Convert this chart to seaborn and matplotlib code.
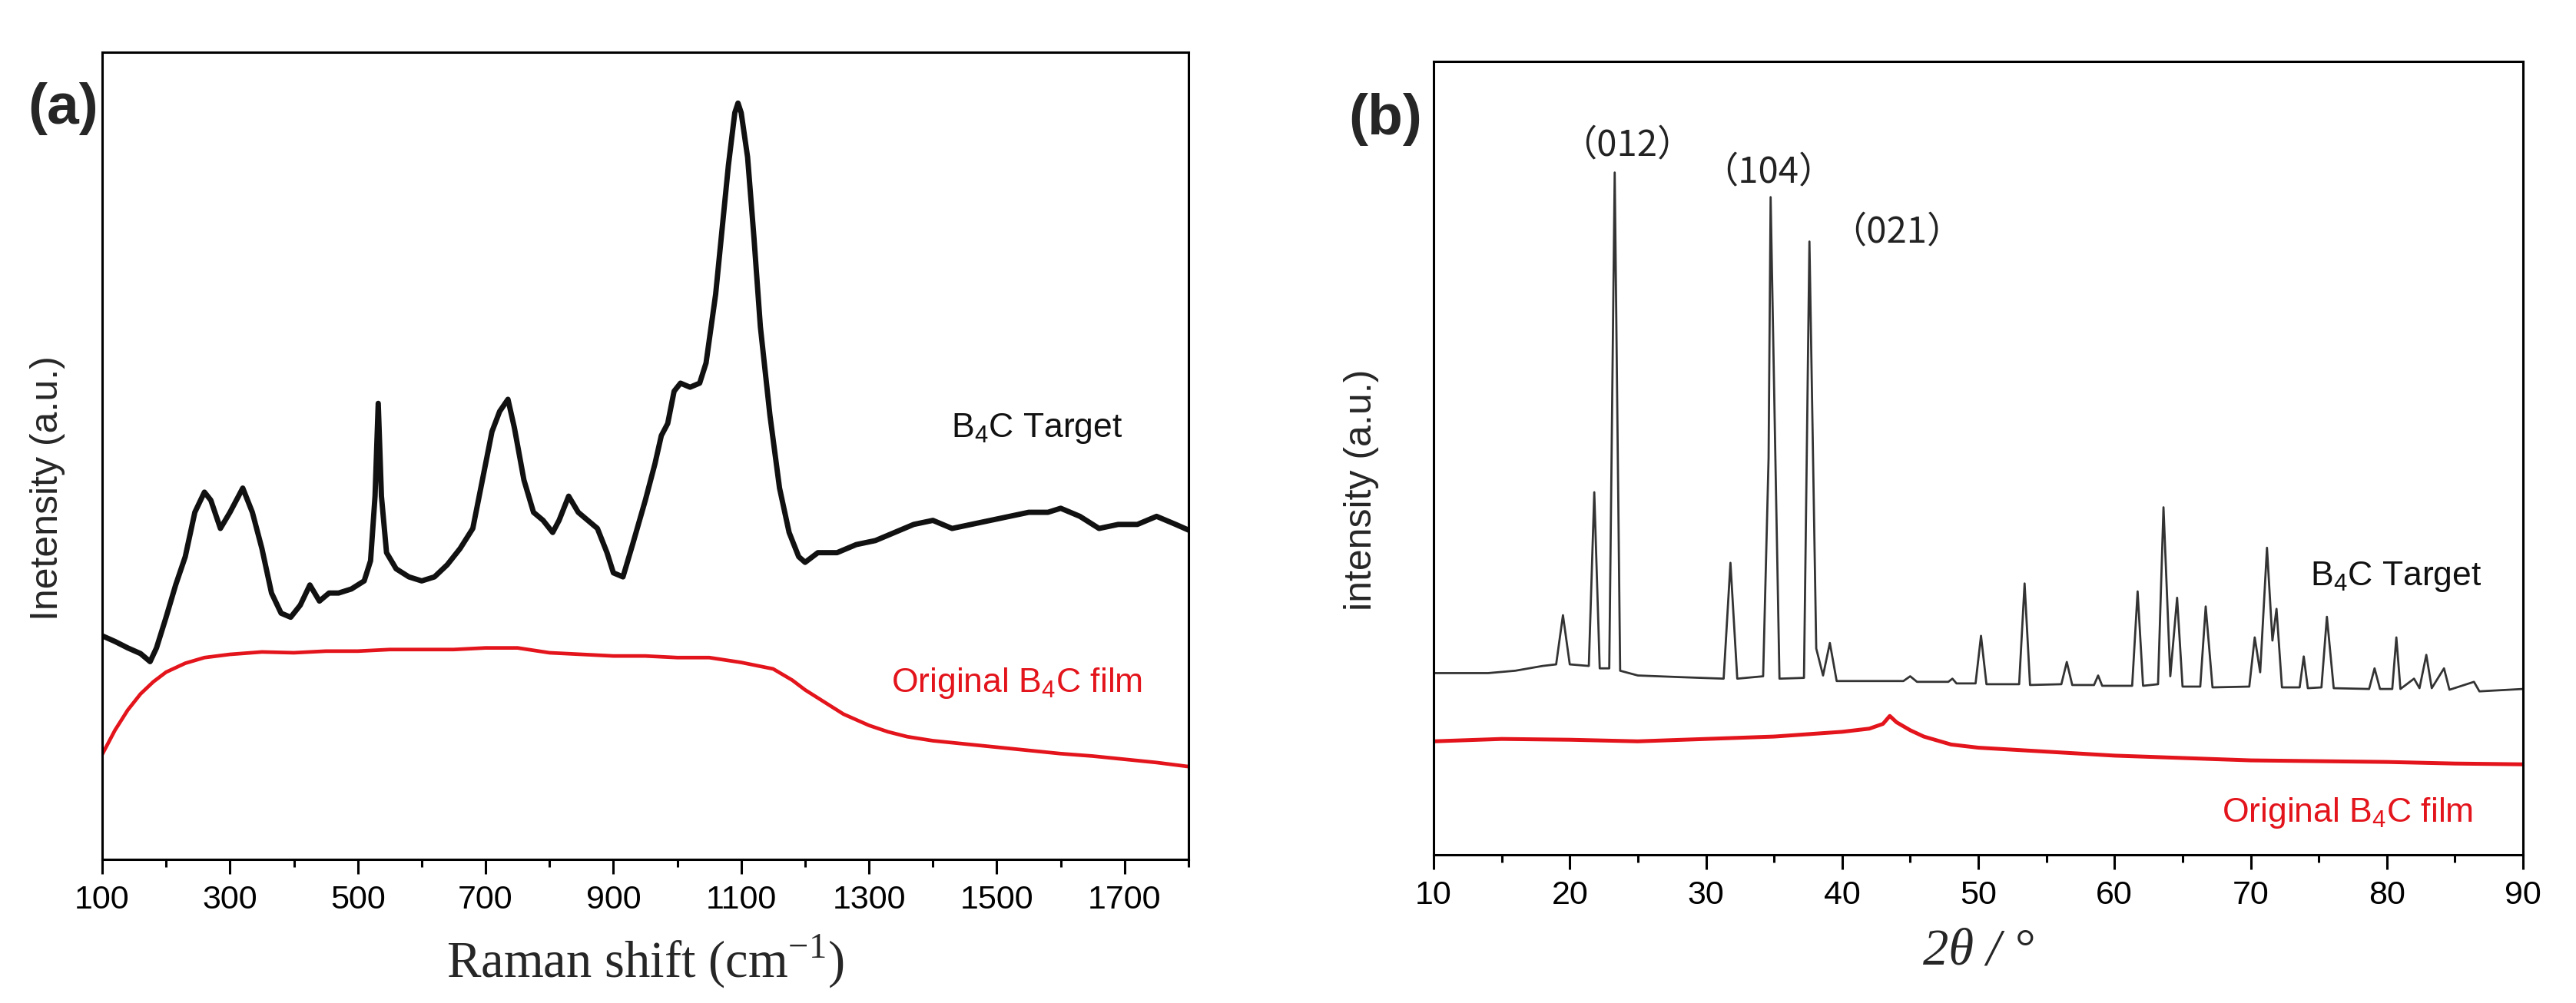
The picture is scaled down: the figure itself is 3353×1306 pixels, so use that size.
import numpy as np
import pandas as pd
import matplotlib
matplotlib.use("Agg")
import matplotlib.pyplot as plt
import seaborn as sns

# ---- Raman spectra (panel a), intensity in a.u. scaled 0..1 ----
raman_shift = [100, 120, 140, 160, 175, 185, 200, 215, 230, 245, 260, 270, 285, 300,
               320, 335, 350, 365, 380, 395, 410, 425, 440, 455, 470, 490, 510, 520,
               527, 532, 537, 545, 560, 580, 600, 620, 640, 660, 680, 695, 710, 722,
               735, 745, 760, 775, 790, 805, 815, 830, 845, 860, 875, 890, 900, 915,
               930, 950, 965, 975, 985, 995, 1005, 1020, 1035, 1045, 1060, 1070, 1080,
               1090, 1095, 1100, 1110, 1120, 1130, 1145, 1160, 1175, 1190, 1200, 1220,
               1250, 1280, 1310, 1340, 1370, 1400, 1430, 1460, 1490, 1520, 1550, 1580,
               1600, 1630, 1660, 1690, 1720, 1750, 1780, 1800]
raman_target = [0.277, 0.270, 0.262, 0.255, 0.245, 0.262, 0.300, 0.340, 0.375, 0.430,
                0.455, 0.445, 0.410, 0.430, 0.460, 0.430, 0.385, 0.330, 0.305, 0.300,
                0.315, 0.340, 0.320, 0.330, 0.330, 0.335, 0.345, 0.370, 0.450, 0.565,
                0.450, 0.380, 0.360, 0.350, 0.345, 0.350, 0.365, 0.385, 0.410, 0.470,
                0.530, 0.555, 0.570, 0.535, 0.470, 0.430, 0.420, 0.405, 0.420, 0.450,
                0.430, 0.420, 0.410, 0.380, 0.355, 0.350, 0.390, 0.445, 0.490, 0.525,
                0.540, 0.580, 0.590, 0.585, 0.590, 0.615, 0.700, 0.780, 0.860, 0.925,
                0.937, 0.925, 0.870, 0.770, 0.660, 0.550, 0.460, 0.405, 0.375, 0.368,
                0.380, 0.380, 0.390, 0.395, 0.405, 0.415, 0.420, 0.410, 0.415, 0.420,
                0.425, 0.430, 0.430, 0.435, 0.425, 0.410, 0.415, 0.415, 0.425, 0.415,
                0.408]

raman_film_x = [100, 120, 140, 160, 180, 200, 230, 260, 300, 350, 400, 450, 500, 550,
                600, 650, 700, 750, 800, 850, 900, 950, 1000, 1050, 1100, 1150, 1180,
                1200, 1230, 1260, 1300, 1330, 1360, 1400, 1450, 1500, 1550, 1600, 1650,
                1700, 1750, 1800]
raman_film = [0.130, 0.160, 0.185, 0.205, 0.220, 0.232, 0.243, 0.250, 0.254, 0.257,
              0.256, 0.258, 0.258, 0.260, 0.260, 0.260, 0.262, 0.262, 0.256, 0.254,
              0.252, 0.252, 0.250, 0.250, 0.244, 0.236, 0.222, 0.210, 0.195, 0.180,
              0.166, 0.158, 0.152, 0.147, 0.143, 0.139, 0.135, 0.131, 0.128, 0.124,
              0.120, 0.115]

# ---- XRD patterns (panel b) ----
two_theta = [10, 14, 16, 18, 19.0, 19.5, 20.0, 21.4, 21.8, 22.2, 22.9, 23.3, 23.7, 25,
             28, 31.3, 31.8, 32.3, 34.2, 34.6, 34.75, 35.1, 35.4, 37.2, 37.6, 38.1, 38.6,
             39.1, 39.6, 44.5, 45.0, 45.5, 47.8, 48.1, 48.4, 49.8, 50.2, 50.6, 53.0, 53.4,
             53.8, 56.1, 56.5, 56.9, 58.5, 58.8, 59.1, 61.3, 61.7, 62.1, 63.2, 63.6, 64.1,
             64.6, 65.0, 66.3, 66.7, 67.2, 69.9, 70.3, 70.7, 71.2, 71.6, 71.9, 72.3, 73.6,
             73.9, 74.2, 75.2, 75.6, 76.1, 78.7, 79.1, 79.5, 80.4, 80.7, 81.0, 82.0, 82.4,
             82.9, 83.3, 84.2, 84.6, 86.4, 86.8, 90]
xrd_target = [0.229, 0.229, 0.232, 0.238, 0.240, 0.302, 0.240, 0.238, 0.457, 0.235,
              0.235, 0.860, 0.232, 0.226, 0.224, 0.222, 0.368, 0.222, 0.225, 0.500,
              0.829, 0.500, 0.222, 0.223, 0.773, 0.260, 0.226, 0.267, 0.219, 0.219,
              0.225, 0.218, 0.218, 0.222, 0.216, 0.216, 0.276, 0.215, 0.215, 0.342,
              0.214, 0.215, 0.243, 0.214, 0.214, 0.226, 0.213, 0.213, 0.332, 0.213,
              0.215, 0.438, 0.225, 0.324, 0.212, 0.212, 0.313, 0.211, 0.212, 0.274,
              0.230, 0.387, 0.270, 0.310, 0.211, 0.211, 0.250, 0.210, 0.211, 0.300,
              0.210, 0.209, 0.235, 0.209, 0.209, 0.274, 0.209, 0.222, 0.210, 0.252,
              0.210, 0.235, 0.208, 0.218, 0.206, 0.209]

xrd_film_x = [10, 15, 20, 25, 30, 35, 40, 42, 43.0, 43.5, 44, 45, 46, 48, 50, 55, 60,
              65, 70, 75, 80, 85, 90]
xrd_film = [0.143, 0.146, 0.145, 0.143, 0.146, 0.149, 0.155, 0.159, 0.165, 0.175,
            0.167, 0.157, 0.149, 0.139, 0.135, 0.130, 0.125, 0.122, 0.119, 0.118,
            0.117, 0.115, 0.114]

hkl_labels = ["\uff08012\uff09", "\uff08104\uff09", "\uff08021\uff09"]
hkl_x = [24.2, 34.6, 44.0]
hkl_y = [0.894, 0.860, 0.785]

BLACK = "#111111"
GREY = "#333333"
RED = "#e3141b"

sns.set_theme(style="ticks")
plt.rcParams["font.family"] = ["Liberation Sans", "DejaVu Sans"]
plt.rcParams["axes.linewidth"] = 1.1
plt.rcParams["xtick.major.size"] = 7
plt.rcParams["xtick.minor.size"] = 3.6
plt.rcParams["xtick.major.width"] = 1.1
plt.rcParams["xtick.minor.width"] = 1.1
plt.rcParams["axes.edgecolor"] = "black"
plt.rcParams["xtick.color"] = "black"

fig = plt.figure(figsize=(3353 / 200, 1306 / 200), dpi=200)
ax1 = fig.add_axes([133 / 3353, 1 - 1119 / 1306, 1414 / 3353, 1051 / 1306])
ax2 = fig.add_axes([1866 / 3353, 1 - 1113 / 1306, 1418 / 3353, 1033 / 1306])

df_t = pd.DataFrame({"x": raman_shift, "y": raman_target})
df_f = pd.DataFrame({"x": raman_film_x, "y": raman_film})
sns.lineplot(data=df_t, x="x", y="y", ax=ax1, color=BLACK, lw=2.5,
             estimator=None, sort=False)
sns.lineplot(data=df_f, x="x", y="y", ax=ax1, color=RED, lw=1.7,
             estimator=None, sort=False)

df_xt = pd.DataFrame({"x": two_theta, "y": xrd_target})
df_xf = pd.DataFrame({"x": xrd_film_x, "y": xrd_film})
sns.lineplot(data=df_xt, x="x", y="y", ax=ax2, color=GREY, lw=1.0,
             estimator=None, sort=False)
sns.lineplot(data=df_xf, x="x", y="y", ax=ax2, color=RED, lw=1.8,
             estimator=None, sort=False)

for ax in (ax1, ax2):
    ax.set_ylim(0, 1)
    ax.set_yticks([])
    ax.tick_params(axis="x", which="both", direction="out", top=False,
                   labelsize=15.5, pad=5)
    for s in ax.spines.values():
        s.set_visible(True)
        s.set_linewidth(1.1)
        s.set_color("black")

ax1.set_xlim(100, 1800)
ax1.set_xticks(np.arange(100, 1801, 200))
ax1.set_xticks(np.arange(200, 1801, 200), minor=True)
ax2.set_xlim(10, 90)
ax2.set_xticks(np.arange(10, 91, 10))
ax2.set_xticks(np.arange(15, 90, 10), minor=True)

ax1.set_xlabel("Raman shift (cm$^{\\mathregular{-1}}$)", family="Liberation Serif",
               fontsize=24, labelpad=8)
ax2.set_xlabel("2\u03b8 / \u00b0", family="Liberation Serif", style="italic",
               fontsize=24, labelpad=8)
ax1.set_ylabel("Inetensity (a.u.)", fontsize=18)
ax2.set_ylabel("intensity (a.u.)", fontsize=18)
ax1.yaxis.set_label_coords(-0.050, 0.46)
ax2.yaxis.set_label_coords(-0.066, 0.46)
for ax in (ax1, ax2):
    ax.yaxis.label.set_verticalalignment("center")

ax1.text(1428, 0.534, "B$_{\\mathregular{4}}$C Target", fontsize=16, color=BLACK,
         va="center", ha="left")
ax1.text(1335, 0.218, "Original B$_{\\mathregular{4}}$C film", fontsize=16, color=RED,
         va="center", ha="left")
ax2.text(74.4, 0.35, "B$_{\\mathregular{4}}$C Target", fontsize=16, color=BLACK,
         va="center", ha="left")
ax2.text(67.9, 0.053, "Original B$_{\\mathregular{4}}$C film", fontsize=16, color=RED,
         va="center", ha="left")

for lab, hx, hy in zip(hkl_labels, hkl_x, hkl_y):
    ax2.text(hx, hy, lab, fontsize=17, color="#222222", ha="center", va="center",
             family=["Noto Sans CJK SC", "DejaVu Sans"])

fig.text(82 / 3353, 1 - 141 / 1306, "(a)", fontsize=27, fontweight="bold",
         ha="center", va="center")
fig.text(1803 / 3353, 1 - 156 / 1306, "(b)", fontsize=27, fontweight="bold",
         ha="center", va="center")

fig.savefig("out.png", dpi=200, facecolor="white")
